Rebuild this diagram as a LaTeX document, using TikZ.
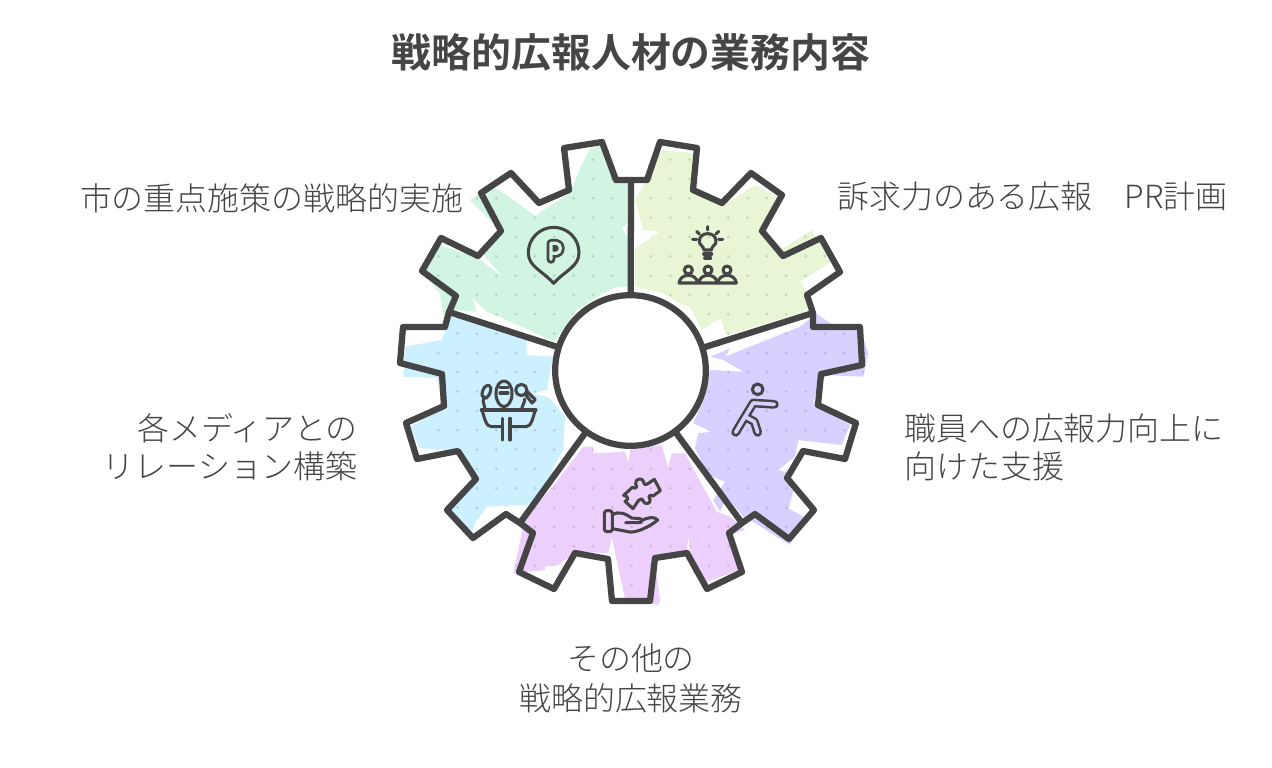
\documentclass[tikz,border=0pt]{standalone}
\usepackage{fontspec}
\setmainfont{Noto Sans CJK JP Light}
\newfontfamily\titlefont{Noto Sans CJK JP Bold}
\definecolor{ink}{HTML}{454545}
\definecolor{cgreen}{HTML}{D2F5E3}
\definecolor{clime}{HTML}{E9F6D6}
\definecolor{cviolet}{HTML}{D8D0FF}
\definecolor{cpink}{HTML}{EDCFFB}
\definecolor{csky}{HTML}{CDF0FE}
\newcommand{\griddots}[1]{%
  \foreach \i in {0,...,24}{\foreach \j in {-3,...,23}{%
    \fill[#1] ({438.3+19.33*\i},{198.3+19.33*\j}) circle (1.5);}}}
\tikzset{
  zoomed/.style={x=.25pt,y=-.25pt},
  gearline/.style={draw=ink,line width=4.7pt,line join=round,line cap=round},
  icon/.style={draw=ink,line width=2.3pt,line join=round,line cap=round},
  iconthick/.style={draw=ink,line width=6.6pt,line join=round,line cap=round},
  label/.style={font=\fontsize{23.95}{28.5}\selectfont,text=ink,inner sep=0pt},
}
\begin{document}
\begin{tikzpicture}[x=.75pt,y=-.75pt]
\useasboundingbox (0,0) rectangle (1272,768);
% sector paints
\path[shift={(390,130)},zoomed,save path=\pgreen]
 (600,55)--(635,45)--(680,155)--(720,160)--(720,275)--(695,295)--(720,330)--(720,470)--(680,470)--(640,490)--(560,540)--(510,610)--(490,635)--(440,610)--(350,570)--(290,545)--(245,500)--(260,545)--(190,540)--(165,585)--(150,490)--(100,430)--(150,345)--(265,385)--(335,440)--(280,370)--(335,305)--(240,210)--(270,190)--(320,175)--(440,260)--(445,250)--(540,190)--(570,115)--cycle;
\path[shift={(630,130)},zoomed,save path=\plime]
 (95,60)--(190,70)--(190,180)--(275,230)--(375,165)--(440,200)--(395,300)--(460,355)--(545,300)--(570,340)--(605,395)--(510,455)--(535,490)--(540,540)--(290,615)--(270,565)--(215,600)--(180,530)--(150,520)--(100,490)--(15,470)--(15,355)--(90,305)--(40,300)--(15,210)--(60,130)--cycle;
\path[shift={(630,360)},zoomed,save path=\pviolet]
 (560,-140)--(600,-110)--(690,-95)--(715,-20)--(700,50)--(575,45)--(550,125)--(570,140)--(660,195)--(635,255)--(505,240)--(495,290)--(445,330)--(480,340)--(465,355)--(490,395)--(475,445)--(520,470)--(480,555)--(360,480)--(345,475)--(290,410)--(270,455)--(250,420)--(285,365)--(235,345)--(195,265)--(205,220)--(245,215)--(190,190)--(225,110)--(240,30)--(340,35)--(280,0)--(240,-10)--(300,-35)--(285,-10)--(510,-100)--cycle;
\path[shift={(390,360)},zoomed,save path=\ppink]
 (580,260)--(610,260)--(610,280)--(705,275)--(715,310)--(720,270)--(815,255)--(835,325)--(845,280)--(885,280)--(980,455)--(1020,470)--(1065,510)--(1020,525)--(1050,630)--(950,665)--(910,640)--(895,530)--(890,580)--(795,600)--(810,720)--(805,735)--(705,715)--(665,530)--(655,580)--(555,575)--(505,615)--(465,620)--(465,630)--(370,640)--(395,520)--(405,470)--(480,390)--cycle;
\path[shift={(390,360)},zoomed,save path=\psky]
 (45,-40)--(155,-60)--(170,-100)--(180,-130)--(260,-115)--(410,-60)--(410,-15)--(490,-10)--(470,90)--(430,100)--(480,115)--(525,170)--(520,270)--(485,330)--(455,320)--(495,335)--(450,410)--(410,435)--(290,440)--(255,490)--(245,520)--(170,450)--(245,360)--(205,270)--(90,265)--(60,200)--(160,145)--(140,55)--(40,50)--cycle;
\fill[csky,use path=\psky];
\fill[cgreen,use path=\pgreen];
\fill[clime,use path=\plime];
\fill[cviolet,use path=\pviolet];
\fill[cpink,use path=\ppink];
\begin{scope}\clip[use path=\psky];\griddots{csky!86!black}\end{scope}
\begin{scope}\clip[use path=\pgreen];\griddots{cgreen!86!black}\end{scope}
\begin{scope}\clip[use path=\plime];\griddots{clime!86!black}\end{scope}
\begin{scope}\clip[use path=\pviolet];\griddots{cviolet!88!black}\end{scope}
\begin{scope}\clip[use path=\ppink];\griddots{cpink!88!black}\end{scope}
% gear outline
\draw[gearline] (632,180)--(647,180)--(660,142)--(697,148)--(693,190)--(722,203)--(751,173)--(782,195)--(762,231)--(783,256)--(821,238)--(840,272)--(807,295)--(813,313)--(813,327)--(860,327)--(862,365)--(821,374)--(818,405)--(856,423)--(845,459)--(803,451)--(787,478)--(814,510)--(789,539)--(755,514)--(742,523)--(729,533)--(742,572)--(707,589)--(687,553)--(655,558)--(650,601)--(612,601)--(608,559)--(575,553)--(554,589)--(519,572)--(533,533)--(520,523)--(506,514)--(473,538)--(447,510)--(476,479)--(458,451)--(417,459)--(406,423)--(444,406)--(442,374)--(400,363)--(403,327)--(445,327)--(449,312)--(456,296)--(422,271)--(441,238)--(478,256)--(501,231)--(481,193)--(511,173)--(539,203)--(569,190)--(564,148)--(602,142)--(616,180)--cycle;
\node[circle,draw=ink,fill=white,line width=4.7pt,minimum size=113pt,inner sep=0pt] (hub) at (630.5,370.5) {};
\coordinate (s1) at (631,180);
\coordinate (s2) at (813,313);
\coordinate (s3) at (742,523);
\coordinate (s4) at (520,523);
\coordinate (s5) at (449,312);
\draw[gearline] (s1)--(hub) (s2)--(hub) (s3)--(hub) (s4)--(hub) (s5)--(hub);
% icon: pin
\begin{scope}[shift={(525,220)},zoomed]
\draw[icon] (86,190) .. controls (50,150) and (10,140) .. (10,98) .. controls (10,55) and (45,22) .. (86,22) .. controls (127,22) and (162,55) .. (162,98) .. controls (162,140) and (122,150) .. (86,190) -- cycle;
\draw[iconthick] (78,118)--(78,70)--(94,70) .. controls (110,70) and (110,100) .. (94,100)--(78,100);
\draw[cgreen,line width=2.4pt,line join=round,line cap=round] (78,118)--(78,70)--(94,70) .. controls (110,70) and (110,100) .. (94,100)--(78,100);
\end{scope}
% icon: idea and people
\begin{scope}[shift={(670,222)},zoomed]
\draw[icon] (113,14)--(113,24) (80,28)--(88,36) (146,28)--(138,36) (68,52)--(80,52) (158,52)--(146,52);
\draw[icon] (102,84) .. controls (100,70) and (88,70) .. (88,58) .. controls (88,42) and (100,35) .. (113,35) .. controls (126,35) and (138,42) .. (138,58) .. controls (138,70) and (126,70) .. (124,84) -- cycle;
\draw[icon] (101,96)--(125,96) (104,108)--(122,108);
\foreach \px in {55,114,171}{
 \draw[icon] (\px,144) circle (12);
 \draw[icon] (\px-28,183) .. controls (\px-26,168) and (\px-14,160) .. (\px,160) .. controls (\px+14,160) and (\px+26,168) .. (\px+28,183) -- cycle;
}
\end{scope}
% icon: podium
\begin{scope}[shift={(472,375)},zoomed]
\draw[icon] (28,105)--(192,105);
\draw[icon] (30,105) .. controls (38,130) and (42,155) .. (58,155)--(92,155) (190,105) .. controls (182,130) and (178,155) .. (162,155)--(114,155);
\draw[icon] (92,130)--(92,195) (114,130)--(114,195);
\draw[icon] (72,56) .. controls (72,30) and (85,18) .. (96,18) .. controls (107,18) and (120,30) .. (120,56) .. controls (120,80) and (107,95) .. (96,95) .. controls (85,95) and (72,80) .. (72,56) -- cycle;
\draw[icon] (84,38)--(108,38) (84,54)--(108,54) (96,95)--(96,105);
\draw[icon] (30,62) .. controls (30,40) and (42,28) .. (52,32) .. controls (62,38) and (55,60) .. (42,70) -- cycle (35,68) .. controls (30,85) and (40,90) .. (38,105);
\draw[icon] (148,45) circle (17);
\draw[icon] (160,58)--(180,84)--(190,74)--(166,50) (158,72) .. controls (158,85) and (150,92) .. (148,105);
\end{scope}
% icon: figure
\begin{scope}[shift={(725,375)},zoomed]
\draw[icon] (98,43) circle (16);
\draw[iconthick] (148,88)--(85,84)--(60,125)--(32,172) (60,125)--(88,140)--(98,172);
\draw[cviolet,line width=2.8pt,line join=round,line cap=round] (148,88)--(85,84)--(60,125)--(32,172) (60,125)--(88,140)--(98,172);
\end{scope}
% icon: hand with puzzle piece
\begin{scope}[shift={(595,470)},zoomed]
\draw[icon] (86,76)--(112,52) .. controls (125,58) and (128,50) .. (122,42) .. controls (118,26) and (144,20) .. (146,36) .. controls (147,45) and (152,46) .. (160,40)--(178,28)--(196,62)--(174,78) .. controls (165,72) and (158,78) .. (165,88) .. controls (170,100) and (150,106) .. (145,94) .. controls (142,84) and (135,86) .. (130,92)--(114,116)--(90,94) .. controls (102,90) and (100,78) .. (86,76)--cycle;
\draw[icon,rounded corners=2pt] (28,122)--(52,122)--(52,185)--(28,185)--cycle;
\draw[icon] (52,135) .. controls (70,122) and (90,130) .. (110,144)--(135,146) .. controls (145,150) and (140,158) .. (132,158)--(92,158);
\draw[icon] (52,176)--(105,186) .. controls (125,188) and (165,170) .. (188,150) .. controls (178,138) and (160,142) .. (138,152);
\end{scope}
% texts
\node[font=\fontsize{29.9}{34}\selectfont\titlefont,text=ink,inner sep=0pt] (title) at (631,52) {戦略的広報人材の業務内容};
\node[label,anchor=east] (t1) at (463.5,198) {市の重点施策の戦略的実施};
\node[label,anchor=west] (t2) at (837,196) {訴求力のある広報　PR計画};
\node[label,anchor=west,align=left] (t3) at (904,447) {職員への広報力向上に\\向けた支援};
\node[label,anchor=east,align=right] (t4) at (358,447) {各メディアとの\\リレーション構築};
\node[label,align=center] (t5) at (631,678) {その他の\\[1.5pt]戦略的広報業務};
\end{tikzpicture}
\end{document}
